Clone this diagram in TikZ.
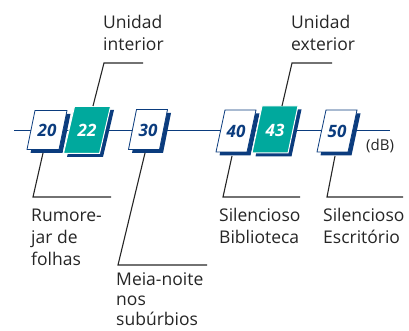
\documentclass[tikz,border=0pt]{standalone}
\usepackage{fontspec}
\setmainfont{Open Sans}
\definecolor{navy}{HTML}{0B3C7E}
\definecolor{tealc}{HTML}{00A99D}
\definecolor{ink}{HTML}{262626}
\newcommand\pbox[6]{%
  \fill[navy] ({#1-#3/2+#5/2+3.5},{#2-#4/2+3.5}) -- ({#1+#3/2+#5/2+3.5},{#2-#4/2+3.5})
    -- ({#1+#3/2-#5/2+3.5},{#2+#4/2+3.5}) -- ({#1-#3/2-#5/2+3.5},{#2+#4/2+3.5}) -- cycle;
  \filldraw[#6] ({#1-#3/2+#5/2},{#2-#4/2}) -- ({#1+#3/2+#5/2},{#2-#4/2})
    -- ({#1+#3/2-#5/2},{#2+#4/2}) -- ({#1-#3/2-#5/2},{#2+#4/2}) -- cycle;
}
\tikzset{
  whitebox/.style={fill=white,draw=navy,line width=0.8pt},
  tealbox/.style={fill=tealc,draw=white,line width=1pt},
  numw/.style={font=\fontsize{17}{17}\selectfont\bfseries\itshape,text=navy,inner sep=0pt},
  numt/.style={font=\fontsize{17}{17}\selectfont\bfseries\itshape,text=white,inner sep=0pt},
  lbl/.style={font=\fontsize{17.5}{22}\selectfont,text=ink,align=left,anchor=base west,inner sep=0pt},
  leader/.style={draw=ink,line width=1.1pt},
  axis/.style={draw=navy,line width=1.3pt}
}
\begin{document}
\begin{tikzpicture}[x=1pt,y=-1pt]
\useasboundingbox (0,0) rectangle (409,331);
\coordinate (L) at (14,130.5);
\coordinate (R) at (390,130.5);
\draw[axis] (L) -- (R);
% boxes
\pbox{47}{130}{32}{39}{8}{whitebox}
\pbox{87}{130}{36}{47}{11}{tealbox}
\pbox{148}{129.5}{31}{40}{8}{whitebox}
\pbox{236}{131}{31}{42}{9}{whitebox}
\pbox{275}{129.5}{36}{47}{10}{tealbox}
\pbox{337}{131}{31}{42}{9}{whitebox}
\node[numw] (n20) at (47,130) {20};
\node[numt] (n22) at (87,130) {22};
\node[numw] (n30) at (148,130) {30};
\node[numw] (n40) at (236,131) {40};
\node[numt] (n43) at (275,130) {43};
\node[numw] (n50) at (337,131) {50};
\node[font=\fontsize{15}{15}\selectfont,text=ink,inner sep=0pt,anchor=base west] (db) at (366,150) {(dB)};
% top labels
\node[lbl] (ui) at (103,51) {Unidad\\interior};
\node[lbl] (ue) at (291,51) {Unidad\\exterior};
\coordinate (ui1) at (104,63); \coordinate (ui2) at (143,63); \coordinate (ui3) at (93,106);
\coordinate (ue1) at (292,63); \coordinate (ue2) at (332,63); \coordinate (ue3) at (282,106);
\draw[leader] (ui2) -- (ui1) -- (ui3);
\draw[leader] (ue2) -- (ue1) -- (ue3);
% bottom labels
\coordinate (a0) at (43,153); \coordinate (a1) at (33,197); \coordinate (a2) at (111,197);
\coordinate (b0) at (145,153); \coordinate (b1) at (118,265); \coordinate (b2) at (207,265);
\coordinate (c0) at (232,156); \coordinate (c1) at (223,197); \coordinate (c2) at (300,197);
\coordinate (d0) at (335,156); \coordinate (d1) at (327,197); \coordinate (d2) at (403,197);
\draw[leader] (a0) -- (a1) -- (a2);
\draw[leader] (b0) -- (b1) -- (b2);
\draw[leader] (c0) -- (c1) -- (c2);
\draw[leader] (d0) -- (d1) -- (d2);
\node[lbl] (t1) at (31,265) {Rumore-\\jar de\\folhas};
\node[lbl,font=\fontsize{17.5}{20}\selectfont] (t2) at (116,325.5) {Meia-noite\\nos\\subúrbios};
\node[lbl] (t3) at (219,243) {Silencioso\\Biblioteca};
\node[lbl] (t4) at (323,243) {Silencioso\\Escritório};
\end{tikzpicture}
\end{document}
